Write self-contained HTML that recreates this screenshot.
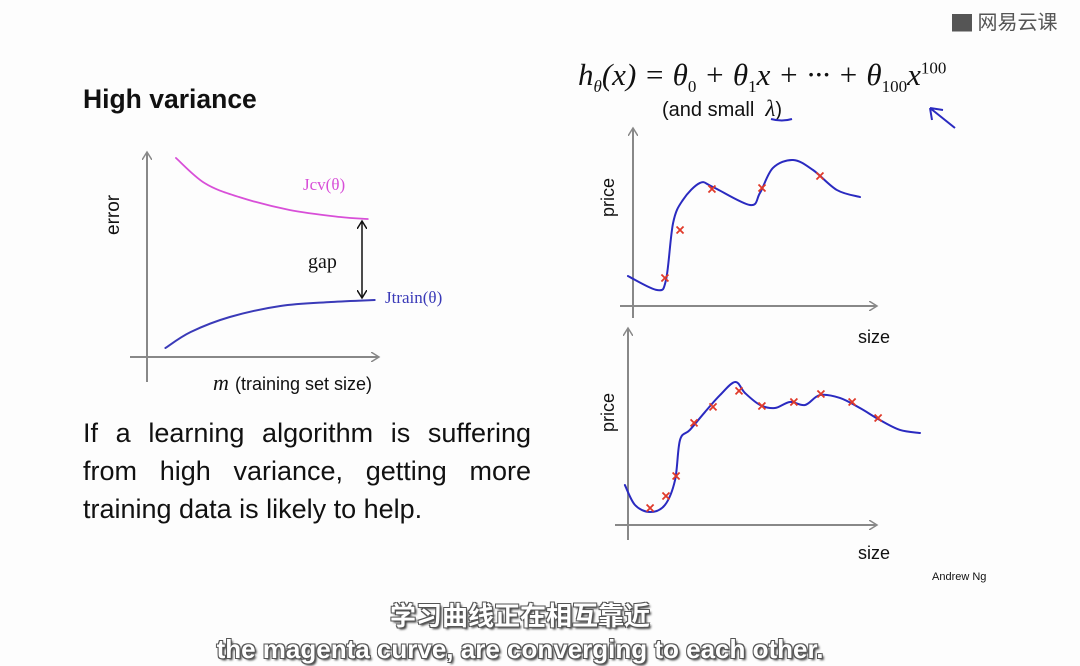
<!DOCTYPE html>
<html><head><meta charset="utf-8">
<style>
body{margin:0;width:1080px;height:666px;overflow:hidden;background:#fdfdfd;font-family:"Liberation Sans","Noto Sans CJK SC",sans-serif;position:relative}
.t{position:absolute;white-space:nowrap;color:#111}
.sub{position:absolute;left:0;width:1040px;text-align:center;color:#fff;font-weight:bold;
text-shadow:-1px -1px 0 #555,1px -1px 0 #555,-1px 1px 0 #555,1px 1px 0 #555,2px 2px 2px #333}
</style></head><body>
<div class="t" style="left:952px;top:6px;font-size:20px;color:#555">▇ 网易云课</div>
<div class="t" style="left:83px;top:84px;font-size:26.5px;font-weight:bold">High variance</div>
<div class="t" style="left:578px;top:57px;font-size:31px;font-family:'Liberation Serif',serif;font-style:italic">h<sub style="font-size:17px">θ</sub>(x) = θ<sub style="font-size:17px;font-style:normal">0</sub> + θ<sub style="font-size:17px;font-style:normal">1</sub>x + ··· + θ<sub style="font-size:17px;font-style:normal">100</sub>x<sup style="font-size:17px;font-style:normal">100</sup></div>
<div class="t" style="left:662px;top:96px;font-size:20px">(and small &nbsp;<i style="font-family:'Liberation Serif',serif;font-size:23px">λ</i>)</div>
<div class="t" style="left:83px;top:414px;font-size:27px;line-height:38px;width:448px;text-align:justify;white-space:normal;text-align-last:left">If a learning algorithm is suffering from high variance, getting more training data is likely to help.</div>
<div class="t" style="left:932px;top:571px;font-size:11px">Andrew Ng</div>
<div class="sub" style="top:596px;font-size:26px;font-family:'Noto Sans CJK SC',sans-serif">学习曲线正在相互靠近</div>
<div class="sub" style="top:634px;font-size:26px">the magenta curve, are converging to each other.</div>
<svg id="s" width="1080" height="666" style="position:absolute;left:0;top:0">
<defs><marker id="ar" markerWidth="10" markerHeight="10" refX="7" refY="5" orient="auto" markerUnits="userSpaceOnUse"><path d="M0,0 L8,5 L0,10" fill="none" stroke="#888" stroke-width="1.5"/></marker>
<marker id="ak" markerWidth="10" markerHeight="10" refX="7" refY="5" orient="auto-start-reverse" markerUnits="userSpaceOnUse"><path d="M0,0 L8,5 L0,10" fill="none" stroke="#111" stroke-width="1.5"/></marker></defs>
</svg>
<script>
// Left learning curve data (m, error)
const cvM=[12.6,25,40,62,84,96];
const cvErr=[99.5,87,80,73.5,70,69];
const trM=[8,19,36,58,80,99];
const trErr=[4.5,12.5,20,25.5,27.5,28.5];
// Top-right fit (size, price)
const fit1X=[-2.1,10,13.75,16.7,20.8,27.9,33.3,48.75,52.9,58.3,66.7,75,85,94.6];
const fit1Y=[17.6,9.4,15.3,48.8,62.4,72.4,70,59.4,66.5,81.2,85.9,80,68.2,64.1];
const pts1X=[13.3,19.6,32.9,53.75,77.9];
const pts1Y=[16.5,44.7,68.8,69.4,76.5];
// Bottom-right fit
const fit2X=[-1.2,2.7,8.5,14.2,18.1,20,23.8,29.6,35.4,41.2,45,50.8,56.5,62.3,68.1,73.8,81.5,89.2,96.9,104.6,112.3];
const fit2Y=[25,12.5,8.1,12.5,28.1,53.1,59.4,70.6,81.2,89.4,82.5,75,73.1,76.9,75,81.2,79.4,73.1,65.6,59.4,57.5];
const pts2X=[8.5,14.6,18.5,25.4,32.7,42.7,51.5,63.8,74.2,86.2,96.2];
const pts2Y=[10.6,18.1,30.6,63.8,73.8,83.8,74.4,76.9,81.9,76.9,66.9];

const s=document.getElementById('s');const NS='http://www.w3.org/2000/svg';
function mk(tag,at){const e=document.createElementNS(NS,tag);for(const k in at)e.setAttribute(k,at[k]);s.appendChild(e);return e;}
function smooth(p){let d='M'+p[0][0]+','+p[0][1];for(let i=0;i<p.length-1;i++){const a=p[i-1]||p[i],b=p[i],c=p[i+1],e=p[i+2]||c;
d+=` C${b[0]+(c[0]-a[0])/6},${b[1]+(c[1]-a[1])/6} ${c[0]-(e[0]-b[0])/6},${c[1]-(e[1]-b[1])/6} ${c[0]},${c[1]}`;}return d;}
function axis(x0,y0,x1,y1,name){const l=mk('line',{x1:x0,y1:y0,x2:x1,y2:y1,stroke:'#888','stroke-width':2,'marker-end':'url(#ar)'});

}
function txt(x,y,t,size,name,rot,col,fam){const e=mk('text',{x:x,y:y,'font-size':size,fill:col||'#111','font-family':fam||'Liberation Sans, sans-serif'});
if(rot)e.setAttribute('transform',`rotate(-90 ${x} ${y})`);e.textContent=t;


return e;}
function curve(xs,ys,fx,fy,col,w,name){const p=xs.map((v,i)=>[fx(v),fy(ys[i])]);const e=mk('path',{d:smooth(p),fill:'none',stroke:col,'stroke-width':w,'stroke-linecap':'round'});

}
function crosses(xs,ys,fx,fy,name){xs.forEach((v,i)=>{const x=fx(v),y=fy(ys[i]);const e=mk('path',{d:`M${x-3.5},${y-3.5}L${x+3.5},${y+3.5}M${x+3.5},${y-3.5}L${x-3.5},${y+3.5}`,stroke:'#e03a2a','stroke-width':1.8});

});}

// Left chart
const xL=v=>147+v*2.3, yL=v=>357-v*2.0;
axis(147,382,147,153,'left-y-axis');axis(130,357,378,357,'left-x-axis');
curve(cvM,cvErr,xL,yL,'#d84fd8',1.8,'jcv-curve');
curve(trM,trErr,xL,yL,'#3a3ab8',2,'jtrain-curve');
txt(119,235,'error',19,'left-y-axis-title',true);
const mm=txt(213,390,'m',22,'m-symbol',false,'#111','Liberation Serif, serif');
mm.setAttribute('font-style','italic');
txt(235,390,'(training set size)',18,'left-x-axis-title');
txt(303,190,'Jcv(θ)',17,'jcv-label',false,'#d84fd8','Liberation Serif, serif');
txt(385,303,'Jtrain(θ)',17,'jtrain-label',false,'#3a3ab8','Liberation Serif, serif');
const g=mk('line',{x1:362,y1:222,x2:362,y2:297,stroke:'#111','stroke-width':1.5,'marker-end':'url(#ak)','marker-start':'url(#ak)'});


txt(308,268,'gap',20,'gap-label',false,'#111','Liberation Serif, serif');

// Top right chart
const xR=v=>633+v*2.4, yR=v=>306-v*1.7;
axis(633,318,633,129,'top-y-axis');axis(620,306,876,306,'top-x-axis');
curve(fit1X,fit1Y,xR,yR,'#2a2ac0',2,'top-fit-curve');
crosses(pts1X,pts1Y,xR,yR,'top-data-point');
txt(614,217,'price',18,'top-y-axis-title',true);
txt(858,343,'size',18,'top-x-axis-title');

// Bottom right chart
const xB=v=>628+v*2.6, yB=v=>525-v*1.6;
axis(628,540,628,329,'bottom-y-axis');axis(615,525,876,525,'bottom-x-axis');
curve(fit2X,fit2Y,xB,yB,'#2a2ac0',2,'bottom-fit-curve');
crosses(pts2X,pts2Y,xB,yB,'bottom-data-point');
txt(614,432,'price',18,'bottom-y-axis-title',true);
txt(858,559,'size',18,'bottom-x-axis-title');

// annotation arrow near formula
const a=mk('path',{d:'M955,128 L930,108 M930,108 L932,120 M930,108 L943,110',stroke:'#2a2ac0','stroke-width':2,fill:'none'});


const u=mk('path',{d:'M771,119 Q782,122 792,119',stroke:'#2a2ac0','stroke-width':2,fill:'none'});


</script>
</body></html>
